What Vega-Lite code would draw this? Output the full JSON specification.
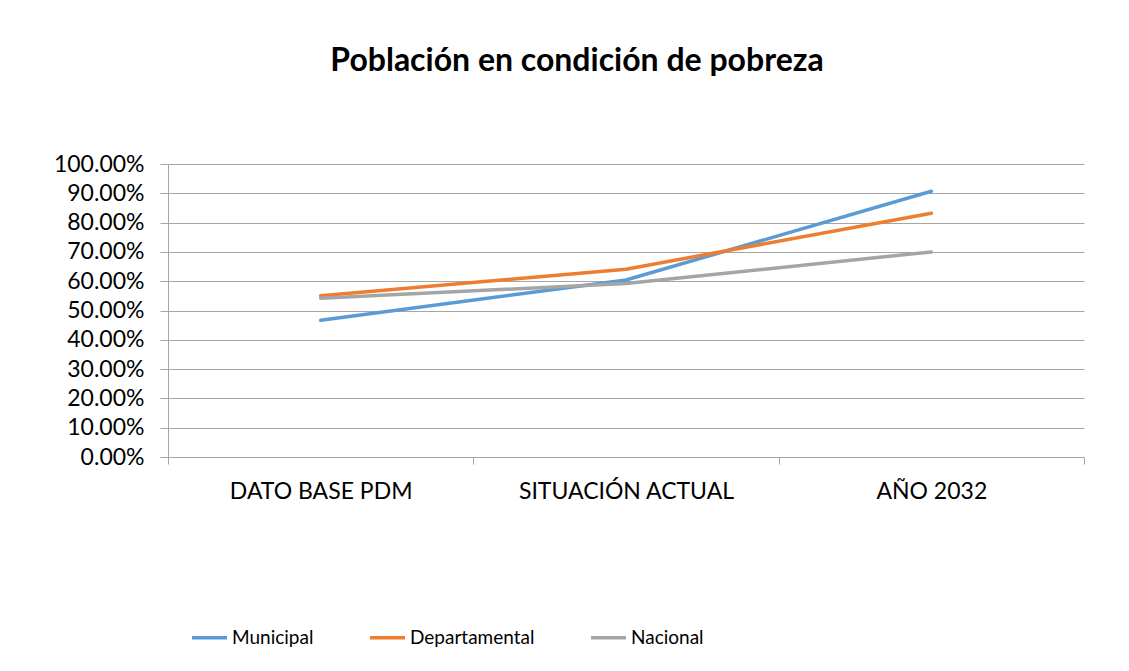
{
  "$schema": "https://vega.github.io/schema/vega-lite/v6.json",
  "width": 916,
  "height": 293,
  "autosize": {"type": "none"},
  "padding": {"left": 168, "top": 164, "right": 45, "bottom": 214},
  "background": "white",
  "title": {
    "text": "Población en condición de pobreza",
    "font": "Lato",
    "fontSize": 32,
    "fontWeight": "bold",
    "color": "#000000",
    "anchor": "middle",
    "offset": 75,
    "dx": -49
  },
  "config": {
    "view": {"stroke": null},
    "font": "Lato"
  },
  "data": {
    "values": [
      {"categoria": "DATO BASE PDM", "serie": "Municipal", "valor": 0.467},
      {"categoria": "SITUACIÓN ACTUAL", "serie": "Municipal", "valor": 0.604},
      {"categoria": "AÑO 2032", "serie": "Municipal", "valor": 0.907},
      {"categoria": "DATO BASE PDM", "serie": "Departamental", "valor": 0.55},
      {"categoria": "SITUACIÓN ACTUAL", "serie": "Departamental", "valor": 0.641},
      {"categoria": "AÑO 2032", "serie": "Departamental", "valor": 0.832},
      {"categoria": "DATO BASE PDM", "serie": "Nacional", "valor": 0.542},
      {"categoria": "SITUACIÓN ACTUAL", "serie": "Nacional", "valor": 0.592},
      {"categoria": "AÑO 2032", "serie": "Nacional", "valor": 0.70}
    ]
  },
  "mark": {"type": "line", "strokeWidth": 3.5, "strokeCap": "round"},
  "encoding": {
    "x": {
      "field": "categoria",
      "type": "nominal",
      "sort": ["DATO BASE PDM", "SITUACIÓN ACTUAL", "AÑO 2032"],
      "bandPosition": 0.5,
      "scale": {"type": "band", "paddingInner": 0, "paddingOuter": 0},
      "axis": {
        "title": null,
        "labelAngle": 0,
        "labelFont": "Lato",
        "labelFontSize": 23,
        "labelColor": "#000000",
        "labelPadding": 16,
        "labelLimit": 0,
        "tickBand": "extent",
        "ticks": true,
        "tickSize": 7,
        "tickColor": "#A6A6A6",
        "domainColor": "#A6A6A6",
        "domainWidth": 1,
        "grid": false
      }
    },
    "y": {
      "field": "valor",
      "type": "quantitative",
      "scale": {"domain": [0, 1], "nice": false},
      "axis": {
        "title": null,
        "values": [0, 0.1, 0.2, 0.3, 0.4, 0.5, 0.6, 0.7, 0.8, 0.9, 1.0],
        "format": ".2%",
        "labelFont": "Lato",
        "labelFontSize": 23,
        "labelColor": "#000000",
        "labelPadding": 16,
        "tickSize": 8,
        "tickColor": "#A6A6A6",
        "domainColor": "#A6A6A6",
        "grid": true,
        "gridColor": "#A6A6A6",
        "gridWidth": 1
      }
    },
    "color": {
      "field": "serie",
      "type": "nominal",
      "scale": {
        "domain": ["Municipal", "Departamental", "Nacional"],
        "range": ["#5B9BD5", "#ED7D31", "#A5A5A5"]
      },
      "legend": {
        "title": null,
        "orient": "none",
        "direction": "horizontal",
        "legendX": 22,
        "legendY": 454,
        "symbolType": "stroke",
        "symbolSize": 1225,
        "symbolStrokeWidth": 3.5,
        "labelFont": "Lato",
        "labelFontSize": 19,
        "labelColor": "#000000",
        "labelOffset": 3,
        "columnPadding": 49,
        "columns": 3
      }
    }
  }
}
